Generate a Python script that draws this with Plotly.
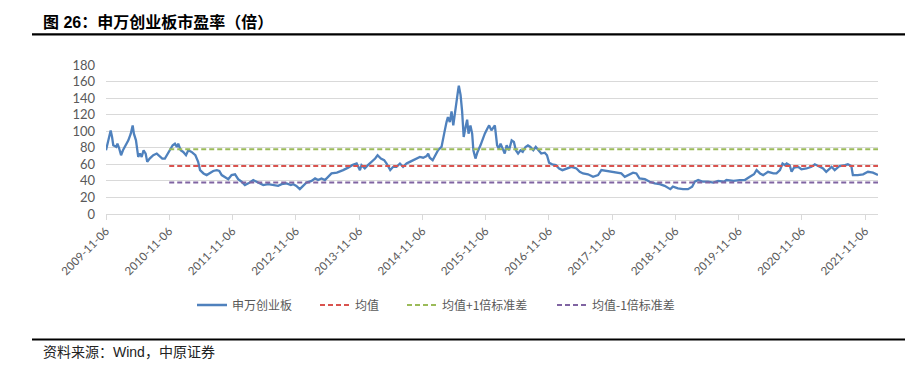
import plotly.graph_objects as go

# ---- data ----
dates = [
    "2009-11-06","2009-11-19","2009-12-03","2009-12-11","2009-12-18","2010-01-04","2010-01-11","2010-01-20",
    "2010-02-01","2010-02-12","2010-03-01","2010-03-15","2010-03-29","2010-04-09","2010-04-16","2010-04-28",
    "2010-05-11","2010-05-21","2010-05-31","2010-06-11","2010-06-23","2010-07-02","2010-07-16","2010-08-06",
    "2010-08-26","2010-09-08","2010-09-27","2010-10-12","2010-10-28","2010-11-10","2010-11-26","2010-12-09",
    "2010-12-20","2010-12-28","2011-01-11","2011-01-26","2011-02-11","2011-02-24","2011-03-15","2011-04-06",
    "2011-04-22","2011-05-03","2011-05-23","2011-06-10","2011-06-29","2011-07-18","2011-08-08","2011-08-22",
    "2011-09-05","2011-09-23","2011-10-13","2011-11-01","2011-11-21","2011-12-09","2011-12-29","2012-01-17",
    "2012-02-06","2012-03-05","2012-03-26","2012-04-09","2012-05-02","2012-05-30","2012-06-28","2012-07-27",
    "2012-08-16","2012-09-14","2012-10-08","2012-10-22","2012-11-09","2012-11-29","2012-12-18","2013-01-07",
    "2013-02-05","2013-02-25","2013-03-15","2013-04-03","2013-04-23","2013-05-13","2013-05-31","2013-07-01",
    "2013-07-18","2013-08-06","2013-09-04","2013-09-27","2013-10-23","2013-11-11","2013-11-20","2013-12-09",
    "2013-12-27","2014-01-17","2014-02-07","2014-02-21","2014-03-12","2014-03-31","2014-04-14","2014-05-05",
    "2014-05-22","2014-06-10","2014-06-30","2014-07-18","2014-08-07","2014-08-26","2014-09-15","2014-10-08",
    "2014-10-23","2014-11-11","2014-12-01","2014-12-10","2014-12-19","2015-01-05","2015-01-16","2015-02-05",
    "2015-02-25","2015-03-06","2015-03-16","2015-03-26","2015-04-03","2015-04-14","2015-04-24","2015-05-04",
    "2015-05-13","2015-05-22","2015-06-01","2015-06-05","2015-06-15","2015-06-24","2015-07-03","2015-07-14",
    "2015-07-23","2015-07-31","2015-08-11","2015-08-21","2015-08-28","2015-09-09","2015-09-21","2015-10-08",
    "2015-10-20","2015-11-02","2015-11-16","2015-11-27","2015-12-10","2015-12-30","2016-01-12","2016-01-22",
    "2016-02-01","2016-02-15","2016-02-25","2016-03-07","2016-03-21","2016-04-05","2016-04-18","2016-04-29",
    "2016-05-12","2016-05-26","2016-06-08","2016-06-24","2016-07-08","2016-07-22","2016-08-08","2016-08-22",
    "2016-09-05","2016-09-23","2016-10-13","2016-10-26","2016-11-07","2016-11-25","2016-12-16","2017-01-04",
    "2017-01-23","2017-02-15","2017-03-16","2017-04-14","2017-05-03","2017-05-22","2017-06-20","2017-07-19",
    "2017-08-17","2017-09-05","2017-10-09","2017-11-02","2017-12-01","2017-12-29","2018-01-18","2018-02-06",
    "2018-03-07","2018-03-26","2018-04-13","2018-05-14","2018-06-11","2018-07-10","2018-08-08","2018-09-05",
    "2018-10-08","2018-10-23","2018-11-21","2018-12-20","2019-01-18","2019-02-11","2019-02-26","2019-03-18",
    "2019-04-15","2019-05-14","2019-06-12","2019-07-11","2019-08-14","2019-08-28","2019-10-08","2019-11-13",
    "2019-12-12","2020-01-10","2020-02-03","2020-02-18","2020-03-09","2020-03-27","2020-04-24","2020-05-25",
    "2020-06-12","2020-07-02","2020-07-17","2020-07-31","2020-08-10","2020-08-27","2020-09-07","2020-09-21",
    "2020-10-14","2020-11-03","2020-12-02","2020-12-31","2021-01-19","2021-02-08","2021-03-08","2021-03-26",
    "2021-04-26","2021-05-14","2021-06-11","2021-07-12","2021-07-29","2021-08-18","2021-08-27","2021-09-24",
    "2021-10-25","2021-11-22","2021-12-21","2022-01-19",
]
pe = [
    77, 87, 101, 93, 83, 81, 85, 80,
    71, 77, 83, 89, 97, 107, 97, 89,
    69, 73, 69, 77, 73, 63, 67, 71,
    73, 71, 67, 67, 73, 78, 83, 85,
    81, 85, 77, 75, 71, 77, 75, 71,
    63, 53, 49, 47, 49, 52, 53, 52,
    47, 45, 42, 47, 48, 42, 39, 35,
    37, 41, 39, 37, 35, 36, 35, 34,
    36, 37, 35, 36, 34, 30, 34, 38,
    40, 43, 41, 43, 41, 45, 49, 50,
    51, 53, 56, 59, 61, 53, 59, 55,
    59, 63, 67, 71, 67, 65, 61, 53,
    57, 57, 61, 57, 61, 63, 65, 67,
    69, 68, 70, 73, 68, 65, 69, 77,
    81, 89, 101, 111, 117, 111, 124, 107,
    122, 140, 150, 155, 144, 124, 93, 105,
    114, 97, 107, 97, 77, 67, 75, 83,
    91, 97, 103, 107, 101, 107, 83, 79,
    85, 77, 73, 83, 77, 89, 87, 77,
    73, 77, 75, 81, 83, 81, 77, 81,
    77, 73, 74, 71, 62, 60, 59, 55,
    53, 55, 57, 55, 51, 49, 48, 45,
    47, 53, 52, 51, 50, 49, 45, 47,
    50, 49, 43, 42, 39, 37, 36, 34,
    30, 33, 31, 30, 30, 33, 39, 41,
    39, 39, 38, 40, 39, 41, 40, 41,
    41, 45, 48, 53, 49, 47, 51, 49,
    49, 53, 61, 59, 61, 59, 51, 56,
    57, 54, 55, 57, 60, 58, 55, 51,
    57, 53, 58, 59, 60, 58, 47, 47,
    48, 51, 50, 47,
]
pe_mean = 58.1
pe_std = 20.1
band_dates = ["2010-11-06", "2022-01-19"]
tick_labels = ["2009-11-06","2010-11-06","2011-11-06","2012-11-06","2013-11-06","2014-11-06",
               "2015-11-06","2016-11-06","2017-11-06","2018-11-06","2019-11-06","2020-11-06","2021-11-06"]
y_ticks = [0, 20, 40, 60, 80, 100, 120, 140, 160, 180]
series_names = ["申万创业板", "均值", "均值+1倍标准差", "均值-1倍标准差"]

title_text = "图 26：申万创业板市盈率（倍）"
source_text = "资料来源：Wind，中原证券"

# ---- figure ----
W, H = 905, 366
L, R, T, B = 106, 27, 65, 152
pw, ph = W - L - R, H - T - B

def px_x(px):
    return (px - L) / pw

def px_y(py):
    return (H - B - py) / ph

cjk = "Noto Sans CJK SC"
colors = ["#4f81bd", "#d9534f", "#9bbb59", "#8064a2"]
legend_ids = ["legend", "legend2", "legend3", "legend4"]
legend_left_px = [195, 318, 405, 555]

fig = go.Figure()
fig.add_trace(go.Scatter(x=dates, y=pe, mode="lines", name=series_names[0], legend=legend_ids[0],
                         line=dict(color=colors[0], width=2.3)))
band_vals = [pe_mean, pe_mean + pe_std, pe_mean - pe_std]
for i, v in enumerate(band_vals, start=1):
    fig.add_trace(go.Scatter(x=band_dates, y=[v, v], mode="lines", name=series_names[i],
                             legend=legend_ids[i],
                             line=dict(color=colors[i], width=2, dash="5px,3px")))

legend_common = dict(orientation="h", yanchor="middle", y=px_y(305), xanchor="left",
                     font=dict(family=cjk, size=12, color="#595959"),
                     bgcolor="rgba(0,0,0,0)", borderwidth=0, itemwidth=30)
layout_legends = {}
for lid, lx in zip(legend_ids, legend_left_px):
    layout_legends[lid] = dict(legend_common, x=px_x(lx - 3))

fig.update_layout(
    width=W, height=H,
    margin=dict(l=L, r=R, t=T, b=B),
    paper_bgcolor="white", plot_bgcolor="white",
    font=dict(family="Lato, " + cjk, color="#595959", size=12),
    showlegend=True,
    **layout_legends,
)
fig.update_xaxes(
    type="date", range=["2009-11-06", "2022-01-19"],
    tickmode="array", tickvals=tick_labels, ticktext=tick_labels,
    tickangle=-45, tickfont=dict(size=11.5, color="#595959", family="Lato"),
    showgrid=False, showline=True, linecolor="#d9d9d9", linewidth=1,
    ticks="outside", ticklen=5, tickcolor="#d9d9d9", zeroline=False,
)
fig.update_yaxes(
    range=[0, 180], tickmode="array", tickvals=y_ticks,
    tickfont=dict(size=13, color="#595959", family="Lato"),
    showgrid=True, gridcolor="#d9d9d9", gridwidth=1, zeroline=False,
    showline=False, ticks="", ticklabelstandoff=10,
)

# header / footer rules
fig.add_shape(type="line", xref="paper", yref="paper",
              x0=px_x(32), x1=px_x(905), y0=px_y(34.3), y1=px_y(34.3),
              line=dict(color="black", width=2.2))
fig.add_shape(type="line", xref="paper", yref="paper",
              x0=px_x(32), x1=px_x(905), y0=px_y(339.5), y1=px_y(339.5),
              line=dict(color="black", width=2.2))

fig.add_annotation(text="<b>" + title_text + "</b>", xref="paper", yref="paper",
                   x=px_x(41), y=px_y(22), xanchor="left", yanchor="middle", showarrow=False,
                   font=dict(family="Liberation Sans, " + cjk, size=16, color="black"))
fig.add_annotation(text=source_text, xref="paper", yref="paper",
                   x=px_x(41), y=px_y(352), xanchor="left", yanchor="middle", showarrow=False,
                   font=dict(family="Liberation Sans, " + cjk, size=14, color="#222222"))

fig.write_html("out.html")
